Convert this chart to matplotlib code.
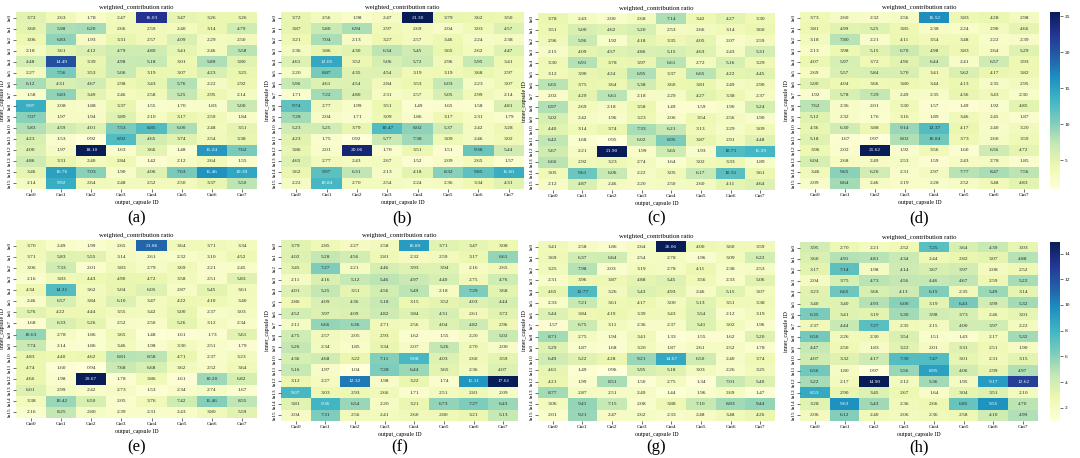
import numpy as np
import matplotlib
matplotlib.use("Agg")
import matplotlib.pyplot as plt
from matplotlib import colors as mcolors

plt.rcParams['font.family'] = ['Liberation Serif', 'DejaVu Serif']

out_labels = [f"Out{i}" for i in range(8)]
in_labels = [f"In{i}" for i in range(16)]
panel_letters = ["(a)", "(b)", "(c)", "(d)", "(e)", "(f)", "(g)", "(h)"]
title_text = "weighted_contribution ratio"
xlabel_text = "output_capsule ID"
ylabel_text = "inner_capsule ID"

data_a = [
    [3.72, 2.63, 1.78, 2.47, 16.03, 3.47, 3.26, 3.26],
    [3.60, 5.98, 6.20, 2.66, 2.59, 2.40, 3.14, 4.79],
    [3.06, 6.83, 1.93, 3.31, 2.57, 4.09, 2.29, 2.50],
    [2.18, 3.61, 4.12, 4.79, 4.80, 3.41, 2.46, 5.58],
    [4.48, 14.49, 3.39, 4.98, 5.18, 3.01, 5.89, 3.80],
    [2.27, 7.56, 3.53, 5.06, 3.19, 3.07, 4.23, 3.25],
    [6.12, 4.31, 4.67, 2.98, 3.43, 5.76, 2.22, 2.92],
    [1.58, 6.83, 3.49, 2.46, 2.58, 5.25, 2.95, 2.14],
    [9.97, 2.08, 1.88, 3.37, 1.55, 1.70, 1.83, 5.00],
    [7.07, 1.97, 1.94, 3.89, 2.10, 3.17, 2.59, 1.84],
    [5.83, 4.59, 4.01, 7.53, 8.85, 6.00, 2.48, 3.51],
    [4.23, 1.53, 0.92, 8.92, 4.65, 3.74, 2.54, 3.38],
    [4.00, 1.97, 18.10, 1.63, 3.66, 1.48, 11.24, 7.62],
    [4.86, 3.31, 2.40, 2.84, 1.42, 2.12, 2.64, 1.55],
    [3.46, 10.76, 7.03, 1.90, 4.06, 7.63, 11.46, 10.39],
    [2.14, 9.92, 2.64, 2.48, 2.52, 2.50, 3.37, 5.50],
]
data_b = [
    [3.72, 2.56, 1.98, 2.47, 21.30, 3.79, 3.62, 3.50],
    [3.87, 5.80, 6.94, 2.97, 2.69, 2.04, 3.03, 4.57],
    [3.21, 7.04, 2.13, 3.27, 2.57, 3.46, 2.24, 2.38],
    [2.36, 3.86, 4.30, 6.34, 5.45, 3.65, 2.62, 4.47],
    [4.61, 12.05, 3.52, 5.06, 5.72, 2.96, 5.95, 3.41],
    [2.20, 8.87, 4.35, 4.54, 3.19, 3.19, 3.68, 2.97],
    [5.96, 4.61, 4.54, 2.84, 3.53, 6.03, 2.23, 3.07],
    [1.71, 7.22, 4.80, 2.31, 2.57, 5.05, 2.99, 2.14],
    [9.74, 2.77, 1.99, 3.51, 1.49, 1.65, 1.58, 4.81],
    [7.28, 2.04, 1.71, 3.09, 1.86, 3.17, 2.31, 1.79],
    [5.23, 5.25, 3.79, 10.47, 8.02, 5.37, 2.42, 3.28],
    [4.23, 1.75, 0.92, 5.77, 7.38, 3.09, 2.46, 3.02],
    [3.86, 2.01, 20.06, 1.70, 3.51, 1.51, 9.38, 5.44],
    [4.65, 2.77, 2.43, 2.67, 1.52, 2.09, 2.65, 1.57],
    [3.62, 9.97, 6.31, 2.13, 4.18, 8.32, 9.85, 11.60],
    [2.22, 10.84, 2.70, 2.54, 2.24, 2.36, 3.34, 4.31],
]
data_c = [
    [3.78, 2.43, 2.00, 2.68, 7.14, 3.42, 4.27, 3.30],
    [3.51, 5.00, 4.62, 5.20, 2.53, 2.66, 3.14, 3.60],
    [2.96, 5.96, 1.92, 4.18, 3.35, 4.05, 2.07, 2.59],
    [2.15, 4.09, 4.57, 4.86, 5.15, 4.63, 2.43, 5.31],
    [3.30, 6.91, 3.78, 3.97, 6.61, 2.72, 5.16, 3.29],
    [3.12, 3.90, 4.24, 6.95, 3.37, 6.65, 4.22, 4.45],
    [6.65, 3.75, 3.64, 5.38, 3.60, 3.81, 2.49, 2.90],
    [2.02, 4.29, 6.61, 2.18, 2.29, 4.27, 3.38, 2.37],
    [6.97, 2.69, 2.18, 3.58, 1.49, 1.59, 1.90, 5.24],
    [5.02, 2.42, 1.96, 3.23, 2.06, 3.54, 2.56, 1.90],
    [4.40, 3.14, 3.74, 7.33, 6.21, 3.13, 2.29, 3.09],
    [6.42, 1.68, 0.95, 6.02, 8.95, 3.87, 2.91, 4.48],
    [5.67, 2.21, 21.90, 1.99, 5.65, 1.93, 10.71, 11.29],
    [6.66, 2.92, 3.23, 2.74, 1.64, 3.02, 3.33, 1.89],
    [3.05, 9.61, 6.06, 2.22, 3.05, 6.17, 10.31, 3.61],
    [2.12, 4.87, 2.46, 2.20, 2.50, 2.60, 4.11, 4.64],
]
data_d = [
    [3.73, 2.60, 2.32, 2.56, 16.52, 3.83, 4.28, 2.98],
    [3.81, 4.99, 5.25, 3.85, 2.38, 2.24, 2.90, 4.66],
    [3.18, 7.80, 2.21, 4.11, 3.54, 3.48, 2.22, 2.39],
    [2.13, 3.98, 5.15, 6.70, 4.98, 3.83, 2.64, 5.29],
    [4.07, 5.97, 3.72, 4.96, 6.44, 2.41, 6.57, 3.93],
    [2.69, 5.57, 5.84, 5.70, 3.41, 5.62, 4.17, 3.82],
    [5.00, 4.04, 3.66, 3.80, 3.44, 4.13, 2.35, 2.95],
    [1.92, 5.78, 7.29, 2.49, 2.35, 4.36, 3.43, 2.30],
    [7.62, 2.36, 2.01, 3.30, 1.57, 1.49, 1.92, 4.85],
    [5.12, 2.32, 1.76, 3.16, 1.89, 3.46, 2.45, 1.87],
    [4.36, 6.30, 3.88, 9.14, 12.37, 4.17, 2.40, 3.20],
    [5.18, 1.67, 0.97, 8.02, 10.84, 3.73, 2.60, 3.59],
    [3.96, 2.02, 25.62, 1.92, 3.56, 1.60, 6.56, 4.72],
    [6.04, 2.68, 2.49, 2.53, 1.59, 2.43, 2.78, 1.85],
    [3.46, 9.65, 6.20, 2.31, 2.97, 7.77, 8.47, 7.56],
    [2.09, 8.64, 2.46, 2.19, 2.28, 2.52, 3.48, 4.83],
]
data_e = [
    [3.70, 2.49, 1.99, 2.65, 21.86, 3.64, 3.71, 3.34],
    [3.71, 5.83, 5.55, 3.14, 2.61, 2.32, 3.10, 4.52],
    [3.06, 7.33, 2.01, 3.83, 2.79, 3.69, 2.21, 2.45],
    [2.16, 3.83, 4.43, 4.90, 4.72, 3.58, 2.51, 5.83],
    [4.34, 14.21, 3.62, 5.04, 6.05, 2.87, 5.45, 3.61],
    [2.46, 6.57, 3.84, 6.10, 3.47, 4.22, 4.10, 3.40],
    [5.76, 4.22, 4.44, 3.55, 3.42, 5.00, 2.37, 3.03],
    [1.68, 6.33, 5.26, 2.52, 2.50, 5.26, 3.12, 2.34],
    [10.63, 2.78, 1.86, 3.65, 1.48, 1.61, 1.73, 5.61],
    [7.74, 2.14, 1.86, 3.46, 1.98, 3.30, 2.51, 1.79],
    [4.83, 4.40, 4.62, 8.81, 8.58, 4.71, 2.37, 3.23],
    [4.74, 1.60, 0.94, 7.68, 6.68, 3.62, 2.52, 3.64],
    [4.66, 1.98, 29.67, 1.78, 3.86, 1.61, 10.20, 6.82],
    [6.01, 2.99, 2.42, 2.73, 1.53, 2.34, 2.74, 1.67],
    [3.38, 10.42, 6.50, 2.05, 3.76, 7.42, 11.46, 8.55],
    [2.16, 8.25, 2.80, 2.39, 2.31, 2.43, 3.80, 5.59],
]
data_f = [
    [3.79, 2.85, 2.27, 2.58, 10.80, 3.71, 3.47, 3.08],
    [4.02, 5.28, 4.56, 2.81, 2.32, 2.59, 3.17, 6.61],
    [3.45, 7.27, 2.21, 4.46, 3.93, 3.94, 2.16, 2.65],
    [2.11, 4.16, 5.12, 5.46, 4.97, 4.40, 2.75, 4.76],
    [4.01, 5.25, 3.51, 4.56, 5.49, 2.18, 7.29, 3.68],
    [2.86, 4.09, 4.36, 5.18, 3.15, 3.52, 4.03, 4.44],
    [4.52, 3.97, 4.09, 4.82, 3.84, 4.31, 2.61, 3.72],
    [2.11, 6.66, 6.36, 2.71, 2.56, 4.04, 4.82, 2.96],
    [4.75, 2.57, 2.05, 2.93, 1.62, 1.55, 2.20, 5.02],
    [5.26, 2.34, 1.85, 3.34, 2.07, 5.26, 2.70, 2.00],
    [4.36, 4.68, 3.22, 7.11, 9.08, 4.03, 2.60, 3.59],
    [5.16, 1.97, 1.04, 7.28, 6.44, 3.65, 2.36, 4.07],
    [3.12, 2.27, 12.32, 1.98, 3.22, 1.74, 11.11, 17.61],
    [9.07, 3.03, 2.93, 2.66, 1.71, 2.51, 2.81, 2.09],
    [3.81, 9.36, 6.54, 2.20, 3.21, 6.73, 7.27, 6.43],
    [2.04, 7.31, 2.56, 2.41, 2.60, 2.80, 3.21, 5.13],
]
data_g = [
    [3.41, 2.58, 1.86, 2.64, 26.06, 4.00, 3.60, 3.59],
    [3.69, 6.37, 6.64, 2.54, 2.78, 1.96, 3.09, 6.22],
    [3.25, 7.98, 2.03, 3.19, 2.78, 4.11, 2.38, 2.53],
    [2.31, 3.96, 3.87, 4.88, 5.45, 3.56, 2.33, 5.06],
    [4.65, 12.77, 3.26, 5.43, 4.93, 2.46, 5.15, 3.07],
    [2.33, 7.21, 3.61, 4.17, 3.00, 5.13, 3.51, 3.38],
    [5.44, 3.84, 4.19, 3.39, 3.43, 5.54, 2.12, 3.19],
    [1.57, 6.75, 3.11, 2.36, 2.37, 5.41, 3.02, 1.96],
    [8.71, 2.75, 1.94, 3.41, 1.33, 1.55, 1.62, 5.20],
    [5.29, 1.87, 1.68, 3.20, 1.87, 2.61, 2.52, 1.78],
    [6.49, 5.22, 4.28, 9.21, 14.67, 6.50, 2.40, 3.74],
    [4.61, 1.49, 0.96, 5.95, 5.18, 3.03, 2.26, 3.25],
    [4.21, 1.99, 8.51, 1.50, 2.75, 1.34, 7.01, 5.40],
    [8.77, 2.87, 2.51, 2.49, 1.44, 1.96, 2.69, 1.47],
    [3.06, 9.41, 7.15, 2.08, 3.88, 7.10, 8.83, 9.44],
    [2.01, 9.21, 2.47, 2.62, 2.33, 2.48, 3.48, 4.26],
]
data_h = [
    [3.95, 2.70, 2.21, 2.52, 7.25, 3.64, 4.39, 3.03],
    [3.60, 4.91, 4.81, 4.34, 2.44, 2.82, 3.07, 4.88],
    [3.17, 7.14, 1.98, 4.14, 3.67, 3.97, 2.08, 2.52],
    [2.04, 3.75, 4.73, 4.56, 4.46, 4.67, 2.59, 5.22],
    [3.23, 6.65, 3.66, 4.13, 6.15, 2.35, 5.49, 3.14],
    [3.40, 3.40, 4.93, 6.00, 3.19, 6.43, 3.99, 5.32],
    [6.35, 3.41, 3.19, 5.30, 3.98, 3.73, 2.46, 3.01],
    [2.37, 4.44, 7.27, 2.35, 2.15, 4.00, 3.97, 2.22],
    [6.50, 2.26, 2.30, 3.54, 1.51, 1.43, 2.17, 5.32],
    [4.47, 2.50, 1.83, 3.22, 2.01, 3.31, 2.51, 1.90],
    [4.07, 3.32, 4.17, 7.39, 7.47, 3.01, 2.31, 3.15],
    [6.56, 1.80, 0.97, 5.56, 8.95, 4.06, 2.99, 4.97],
    [5.22, 2.17, 14.90, 2.12, 5.36, 1.95, 9.17, 12.62],
    [8.53, 2.90, 3.45, 2.67, 1.64, 3.04, 3.51, 2.10],
    [3.28, 9.63, 5.43, 2.36, 2.66, 6.85, 9.55, 4.70],
    [2.06, 6.12, 2.40, 2.06, 2.36, 2.58, 4.10, 4.99],
]

panels = [data_a, data_b, data_c, data_d, data_e, data_f, data_g, data_h]

W, H = 1080, 458
fig = plt.figure(figsize=(W / 100, H / 100), dpi=100)
fig.patch.set_facecolor("white")

# pixel boxes: (left, top, right, bottom)
boxes = [
    (16, 12, 257, 189), (281, 12, 524, 189), (538, 13, 775, 190), (800, 12, 1039, 189),
    (16, 240, 257, 418), (281, 240, 518, 421), (538, 241, 775, 421), (800, 242, 1038, 421),
]
cbar_boxes = {3: (1050, 12, 1060, 189), 7: (1050, 242, 1060, 421)}

cmap = plt.get_cmap("YlGnBu")


def px_axes(box):
    l, t, r, b = box
    return fig.add_axes([l / W, 1 - b / H, (r - l) / W, (b - t) / H])


def luminance(rgb):
    rgb = np.asarray(rgb[:3], dtype=float)
    rgb = np.where(rgb <= 0.03928, rgb / 12.92, ((rgb + 0.055) / 1.055) ** 2.4)
    return 0.2126 * rgb[0] + 0.7152 * rgb[1] + 0.0722 * rgb[2]


for k, (d, box) in enumerate(zip(panels, boxes)):
    arr = np.array(d)
    vmin, vmax = arr.min(), arr.max()
    norm = mcolors.Normalize(vmin=vmin, vmax=vmax)
    ax = px_axes(box)
    im = ax.imshow(arr, cmap=cmap, norm=norm, aspect="auto", interpolation="nearest")
    for i in range(arr.shape[0]):
        for j in range(arr.shape[1]):
            c = cmap(norm(arr[i, j]))
            tc = "white" if luminance(c) < 0.408 else "#262626"
            ax.text(j, i, f"{arr[i, j]:.2f}", ha="center", va="center",
                    fontsize=3.9, color=tc)
    for s in ax.spines.values():
        s.set_visible(False)
    ax.set_xticks(range(len(out_labels)))
    ax.set_xticklabels(out_labels)
    ax.set_yticks(range(len(in_labels)))
    ax.set_yticklabels(in_labels, rotation=90, va="center")
    ax.tick_params(axis="both", labelsize=3.8, length=2, width=0.4, pad=1.2)
    ax.set_title(title_text, fontsize=4.8, pad=2.5)
    ax.set_xlabel(xlabel_text, fontsize=4.2, labelpad=1.5)
    ax.set_ylabel(ylabel_text, fontsize=4.2, labelpad=1.5)
    cx = (box[0] + box[2]) / 2 / W
    cy = 1 - (218 if k < 4 else 447) / H
    fig.text(cx, cy, panel_letters[k], ha="center", va="center", fontsize=12)
    if k in cbar_boxes:
        cax = px_axes(cbar_boxes[k])
        cb = fig.colorbar(im, cax=cax)
        cb.outline.set_visible(False)
        cb.ax.tick_params(labelsize=3.9, length=2, width=0.4, pad=1.5)

fig.savefig("out.png", dpi=100, facecolor="white")
